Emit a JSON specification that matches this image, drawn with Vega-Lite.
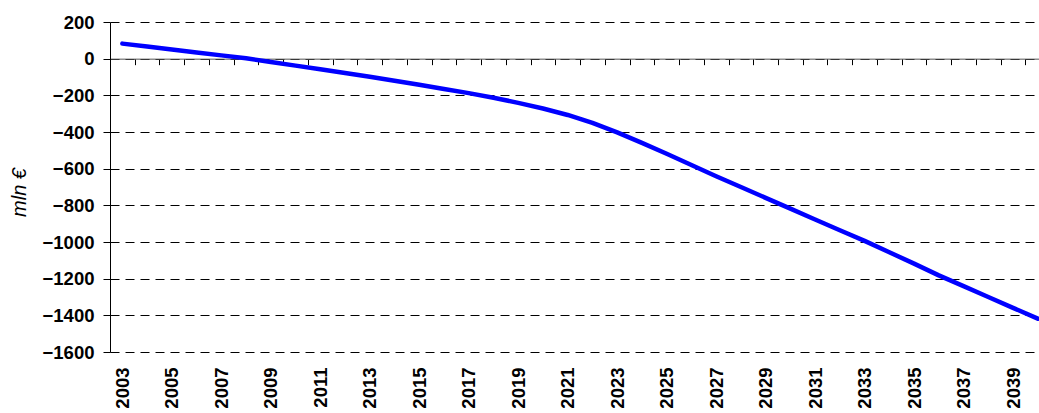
{
  "$schema": "https://vega.github.io/schema/vega-lite/v6.json",
  "autosize": {"type": "none"},
  "padding": {"left": 110, "top": 22, "right": 0, "bottom": 61},
  "width": 929,
  "height": 330,
  "background": "white",
  "config": {"view": {"stroke": null}, "font": "Liberation Sans"},
  "data": {"values": [
    {"year": 2003, "value": 82},
    {"year": 2004, "value": 66},
    {"year": 2005, "value": 50},
    {"year": 2006, "value": 34},
    {"year": 2007, "value": 18},
    {"year": 2008, "value": 2},
    {"year": 2009, "value": -18},
    {"year": 2010, "value": -38},
    {"year": 2011, "value": -58},
    {"year": 2012, "value": -78},
    {"year": 2013, "value": -99},
    {"year": 2014, "value": -120},
    {"year": 2015, "value": -142},
    {"year": 2016, "value": -165},
    {"year": 2017, "value": -188},
    {"year": 2018, "value": -213},
    {"year": 2019, "value": -241},
    {"year": 2020, "value": -272},
    {"year": 2021, "value": -307},
    {"year": 2022, "value": -350},
    {"year": 2023, "value": -402},
    {"year": 2024, "value": -459},
    {"year": 2025, "value": -519},
    {"year": 2026, "value": -580},
    {"year": 2027, "value": -641},
    {"year": 2028, "value": -700},
    {"year": 2029, "value": -759},
    {"year": 2030, "value": -818},
    {"year": 2031, "value": -877},
    {"year": 2032, "value": -936},
    {"year": 2033, "value": -994},
    {"year": 2034, "value": -1056},
    {"year": 2035, "value": -1118},
    {"year": 2036, "value": -1182},
    {"year": 2037, "value": -1241},
    {"year": 2038, "value": -1300},
    {"year": 2039, "value": -1359},
    {"year": 2040, "value": -1418}
  ]},
  "resolve": {"axis": {"x": "independent"}},
  "layer": [
    {
      "mark": {"type": "line", "opacity": 0},
      "encoding": {
        "x": {"field": "year", "type": "quantitative",
              "scale": {"domain": [2002.5, 2040.05], "nice": false, "zero": false},
              "axis": {"orient": "top", "offset": -36.67, "title": null, "labels": false, "grid": false,
                       "values": [2003.5,2004.5,2005.5,2006.5,2007.5,2008.5,2009.5,2010.5,2011.5,2012.5,2013.5,2014.5,2015.5,2016.5,2017.5,2018.5,2019.5,2020.5,2021.5,2022.5,2023.5,2024.5,2025.5,2026.5,2027.5,2028.5,2029.5,2030.5,2031.5,2032.5,2033.5,2034.5,2035.5,2036.5,2037.5,2038.5,2039.5],
                       "tickSize": -6, "tickColor": "black", "tickWidth": 1,
                       "domain": true, "domainColor": "#555555", "domainWidth": 1}},
        "y": {"field": "value", "type": "quantitative",
              "scale": {"domain": [-1600, 200], "nice": false, "zero": false},
              "axis": {"values": [-1600,-1400,-1200,-1000,-800,-600,-400,-200,0,200], "format": "d", "labelOverlap": false,
                       "title": "mln €", "titleFont": "Liberation Sans", "titleFontStyle": "italic", "titleFontWeight": "normal",
                       "titleFontSize": 20, "titleColor": "black", "titlePadding": 13, "titleY": 170,
                       "labelFont": "Liberation Sans", "labelFontWeight": "bold", "labelFontSize": 18.5, "labelColor": "black",
                       "labelPadding": 9, "tickSize": 7, "tickColor": "black",
                       "domain": true, "domainColor": "black",
                       "grid": true, "gridColor": "black", "gridDash": [9, 6], "gridWidth": 1}}
      }
    },
    {
      "mark": {"type": "line", "color": "#0000FF", "strokeWidth": 4.5, "strokeCap": "round", "strokeJoin": "round"},
      "encoding": {
        "x": {"field": "year", "type": "quantitative",
              "axis": {"orient": "bottom", "title": null, "grid": false, "domain": false, "ticks": false,
                       "values": [2003,2005,2007,2009,2011,2013,2015,2017,2019,2021,2023,2025,2027,2029,2031,2033,2035,2037,2039],
                       "format": "d", "labelAngle": -90, "labelAlign": "right", "labelBaseline": "middle",
                       "labelFont": "Liberation Sans", "labelFontWeight": "bold", "labelFontSize": 18.5, "labelColor": "black",
                       "labelPadding": 15, "labelFlush": false, "labelOverlap": false}},
        "y": {"field": "value", "type": "quantitative",
              "axis": {"values": [-1600,-1400,-1200,-1000,-800,-600,-400,-200,0,200], "format": "d", "labelOverlap": false,
                       "title": "mln €", "titleFont": "Liberation Sans", "titleFontStyle": "italic", "titleFontWeight": "normal",
                       "titleFontSize": 20, "titleColor": "black", "titlePadding": 13, "titleY": 170,
                       "labelFont": "Liberation Sans", "labelFontWeight": "bold", "labelFontSize": 18.5, "labelColor": "black",
                       "labelPadding": 9, "tickSize": 7, "tickColor": "black",
                       "domain": true, "domainColor": "black",
                       "grid": true, "gridColor": "black", "gridDash": [9, 6], "gridWidth": 1}}
      }
    }
  ]
}
